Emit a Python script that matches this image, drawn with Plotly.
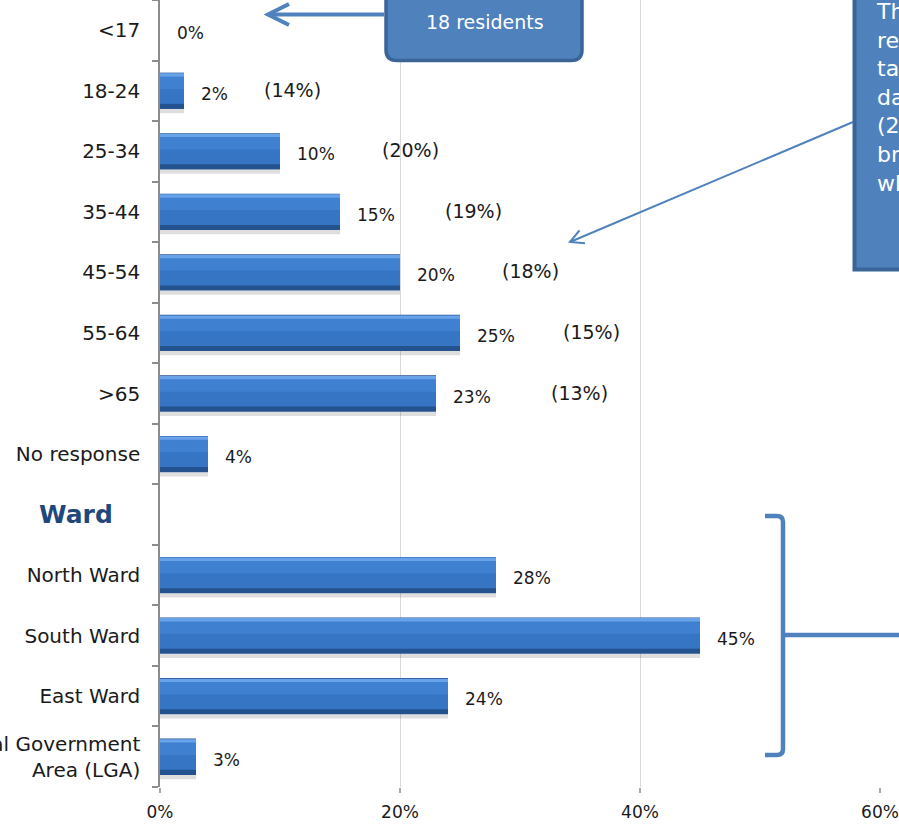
import math
import plotly.graph_objects as go

# ---------------- data ----------------
categories = ["<17", "18-24", "25-34", "35-44", "45-54", "55-64", ">65",
              "No response", "Ward", "North Ward", "South Ward", "East Ward",
              "Outside Local Government Area (LGA)"]
category_ticktext = ["<17", "18-24", "25-34", "35-44", "45-54", "55-64", ">65",
                     "No response", "", "North Ward", "South Ward", "East Ward",
                     "Outside Local Government<br>Area (LGA)"]
values = [0, 2, 10, 15, 20, 25, 23, 4, None, 28, 45, 24, 3]
value_labels = ["0%", "2%", "10%", "15%", "20%", "25%", "23%", "4%", "",
                "28%", "45%", "24%", "3%"]
comparison_categories = ["18-24", "25-34", "35-44", "45-54", "55-64", ">65"]
comparison_labels = ["(14%)", "(20%)", "(19%)", "(18%)", "(15%)", "(13%)"]
x_tickvals = [0, 20, 40, 60]
x_ticktext = ["0%", "20%", "40%", "60%"]
callout_top_text = "18 residents"
callout_right_text = ("The age of<br>respondents<br>tallies with<br>data from the<br>"
                      "(2011 Census)<br>breakdown<br>which")

# ---------------- layout constants ----------------
W, H = 899, 826
L, R, T, B = 160, 19, 0, 39
PW, PH = W - L - R, H - T - B
FONT = "DejaVu Sans"
BLUE = "#4f81bd"
DARK = "#3b6596"
comparison_xshift = [78, 100, 103, 100, 101, 113]


def px(x):
    return (x - L) / PW


def py(y):
    return (H - B - y) / PH


def path(points, close=False):
    s = "M " + " L ".join(f"{px(x):.5f},{py(y):.5f}" for x, y in points)
    return s + (" Z" if close else "")


fig = go.Figure()
bar_vals = [v if v else None for v in values]


def bar_layer(width, offset, color):
    fig.add_trace(go.Bar(y=categories, x=bar_vals, orientation="h", width=width, offset=offset,
                         marker=dict(color=color, line=dict(width=0)),
                         hoverinfo="skip", showlegend=False))


# soft shadow under each bar
bar_layer(0.07, 0.3, "rgba(0,0,0,0.13)")
# dark base (bottom edge)
bar_layer(0.6, -0.3, "#24528f")
# main body
bar_layer(0.5, -0.285, "#3675c4")
# upper body, slightly lighter
bar_layer(0.24, -0.27, "#3f80d0")
# top highlight
bar_layer(0.055, -0.29, "#68a3ea")

annotations = []
for c, v, t in zip(categories, values, value_labels):
    if v is None:
        continue
    annotations.append(dict(x=v, y=c, xref="x", yref="y", text=t, showarrow=False,
                            xanchor="left", xshift=15, yshift=-3,
                            font=dict(family=FONT, size=17, color="#1a1a1a")))
for c, t, sh in zip(comparison_categories, comparison_labels, comparison_xshift):
    v = values[categories.index(c)]
    annotations.append(dict(x=v, y=c, xref="x", yref="y", text=t, showarrow=False,
                            xanchor="left", xshift=sh, yshift=1,
                            font=dict(family=FONT, size=19, color="#1a1a1a")))
# Ward header
annotations.append(dict(x=px(76), y="Ward", xref="paper", yref="y", text="<b>Ward</b>",
                        showarrow=False, xanchor="center",
                        font=dict(family=FONT, size=25, color="#1f497d")))
# callout texts
annotations.append(dict(x=px(485), y=py(22), xref="paper", yref="paper",
                        text=callout_top_text, showarrow=False, xanchor="center",
                        yanchor="middle", font=dict(family=FONT, size=19, color="white")))
annotations.append(dict(x=px(874), y=py(-3), xref="paper", yref="paper",
                        text=callout_right_text, showarrow=False, xanchor="left",
                        yanchor="top", align="left",
                        font=dict(family=FONT, size=22, color="white")))

shapes = []
# top callout box (rounded bottom)
shapes.append(dict(type="path", xref="paper", yref="paper", layer="above",
                   path=(f"M {px(386):.5f},{py(-20):.5f} L {px(386):.5f},{py(50):.5f} "
                         f"Q {px(386):.5f},{py(60.5):.5f} {px(397):.5f},{py(60.5):.5f} "
                         f"L {px(571):.5f},{py(60.5):.5f} "
                         f"Q {px(582):.5f},{py(60.5):.5f} {px(582):.5f},{py(50):.5f} "
                         f"L {px(582):.5f},{py(-20):.5f} Z"),
                   fillcolor=BLUE, line=dict(color=DARK, width=3.5)))
# right callout box
shapes.append(dict(type="path", xref="paper", yref="paper", layer="above",
                   path=path([(854.5, -20), (854.5, 269.5), (920, 269.5), (920, -20)], True),
                   fillcolor=BLUE, line=dict(color=DARK, width=4)))
# top arrow
shapes.append(dict(type="path", xref="paper", yref="paper", layer="above",
                   path=path([(384, 14.5), (269, 14.5)]), line=dict(color=BLUE, width=4)))
shapes.append(dict(type="path", xref="paper", yref="paper", layer="above",
                   path=path([(289, 4), (268, 14.5), (289, 25)]), line=dict(color=BLUE, width=4)))
# right arrow
sx, sy, tx, ty = 853, 122, 570, 242
d = math.hypot(sx - tx, sy - ty)
ux, uy = (sx - tx) / d, (sy - ty) / d
arms = []
for ang in (math.radians(28), -math.radians(28)):
    ax = ux * math.cos(ang) - uy * math.sin(ang)
    ay = ux * math.sin(ang) + uy * math.cos(ang)
    arms.append((tx + 15 * ax, ty + 15 * ay))
shapes.append(dict(type="path", xref="paper", yref="paper", layer="above",
                   path=path([(sx, sy), (tx, ty)]), line=dict(color=BLUE, width=2)))
shapes.append(dict(type="path", xref="paper", yref="paper", layer="above",
                   path=path([arms[0], (tx, ty), arms[1]]), line=dict(color=BLUE, width=2)))
# bracket
shapes.append(dict(type="path", xref="paper", yref="paper", layer="above",
                   path=(f"M {px(765):.5f},{py(516):.5f} L {px(777):.5f},{py(516):.5f} "
                         f"Q {px(783):.5f},{py(516):.5f} {px(783):.5f},{py(522):.5f} "
                         f"L {px(783):.5f},{py(749):.5f} "
                         f"Q {px(783):.5f},{py(755):.5f} {px(777):.5f},{py(755):.5f} "
                         f"L {px(765):.5f},{py(755):.5f}"),
                   line=dict(color=BLUE, width=4.5)))
shapes.append(dict(type="path", xref="paper", yref="paper", layer="above",
                   path=path([(784, 635), (910, 635)]), line=dict(color=BLUE, width=4.5)))

fig.update_layout(
    width=W, height=H, margin=dict(l=L, r=R, t=T, b=B, autoexpand=False),
    paper_bgcolor="white", plot_bgcolor="white", barmode="overlay",
    showlegend=False, annotations=annotations, shapes=shapes,
    xaxis=dict(range=[0, 60], tickvals=x_tickvals, ticktext=x_ticktext,
               showgrid=True, gridcolor="#d9d9d9", gridwidth=1, zeroline=False,
               showline=False, ticks="outside", ticklen=5, tickcolor="#a6a6a6",
               tickwidth=1.5, fixedrange=True, ticklabelstandoff=5,
               tickfont=dict(family=FONT, size=17, color="#1a1a1a")),
    yaxis=dict(categoryorder="array", categoryarray=categories,
               tickvals=categories, ticktext=category_ticktext,
               autorange="reversed", showgrid=False, zeroline=False,
               showline=True, linecolor="#8c8c8c", linewidth=1.5,
               ticks="outside", ticklen=6, tickcolor="#8c8c8c", tickwidth=1.5,
               tickson="boundaries", fixedrange=True, ticklabelstandoff=14,
               tickfont=dict(family=FONT, size=20, color="#1a1a1a")),
)

fig.write_html("out.html", config={"displayModeBar": False},
               post_script="document.body.style.margin='0px';")
